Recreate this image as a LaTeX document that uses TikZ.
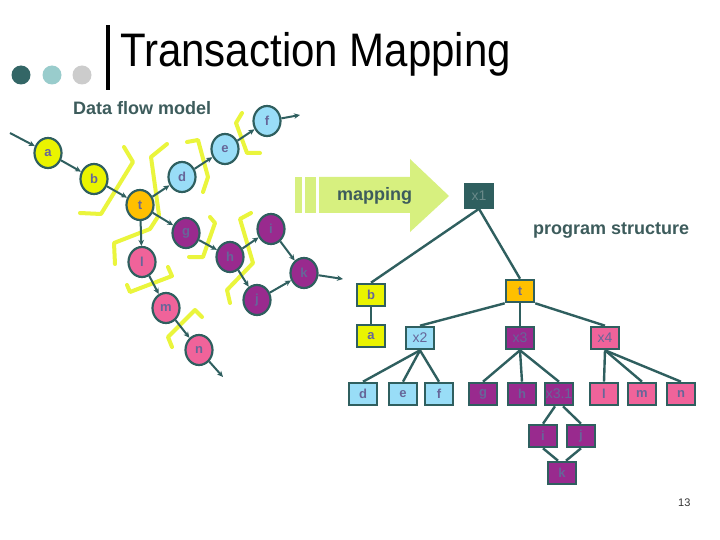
\documentclass[tikz,border=0pt]{standalone}
\usepackage{fontspec}
\setmainfont{Liberation Sans}
\usetikzlibrary{shapes.geometric,arrows.meta}
\definecolor{edgec}{HTML}{2F5F5F}
\definecolor{txtc}{HTML}{3D5C5C}
\definecolor{lblc}{HTML}{666699}
\definecolor{cyel}{HTML}{EAF400}
\definecolor{corg}{HTML}{FFC000}
\definecolor{cblu}{HTML}{99DDF7}
\definecolor{cpur}{HTML}{992A8E}
\definecolor{cpnk}{HTML}{F0639A}
\definecolor{brk}{HTML}{EAF53C}
\definecolor{arrg}{HTML}{D7F07F}
\definecolor{dotA}{HTML}{336666}
\definecolor{dotB}{HTML}{99CCCC}
\definecolor{dotC}{HTML}{CCCCCC}
\definecolor{xonec}{HTML}{6A8A8A}
\begin{document}
\begin{tikzpicture}[x=1pt,y=-1pt,
 dfn/.style={ellipse,draw=edgec,line width=2.2pt,minimum width=27pt,minimum height=30pt,inner sep=0pt,font=\fontsize{13}{13}\selectfont\bfseries,text=lblc},
 box/.style={rectangle,draw=edgec,line width=2.6pt,minimum width=28pt,minimum height=22pt,inner sep=0pt,font=\fontsize{13}{13}\selectfont\bfseries,text=lblc},
 xbox/.style={box,font=\fontsize{14}{14}\selectfont},
 flow/.style={draw=edgec,line width=2pt,-{Stealth[length=6pt,width=5.5pt]}},
 tree/.style={draw=edgec,line width=2.4pt},
 brkt/.style={draw=brk,line width=4pt,line join=round,line cap=round},
 heading/.style={font=\fontsize{18}{18}\selectfont\bfseries,text=txtc,inner sep=0pt}]
\useasboundingbox (0,0) rectangle (720,540);
\fill[white] (0,0) rectangle (720,540);
% title
\fill[dotA] (21,75) circle[radius=9.5pt];
\fill[dotB] (52,75) circle[radius=9.5pt];
\fill[dotC] (82,75) circle[radius=9.5pt];
\fill[black] (106,25) rectangle (110,90);
\node[anchor=base west,inner sep=0pt] (title) at (120,67) {\scalebox{1}[1.12]{\fontsize{42}{42}\selectfont Transaction Mapping}};
\node[heading,anchor=base west] (dfm) at (73,115) {Data flow model};
\node[heading,anchor=base west] (ps) at (533,235) {program structure};
% mapping arrow
\fill[arrg] (295,177) rectangle (302,213);
\fill[arrg] (305,177) rectangle (316,213);
\fill[arrg] (319,177) -- (410,177) -- (410,159) -- (449,196) -- (410,232) -- (410,213) -- (319,213) -- cycle;
\node[heading,anchor=base west] (map) at (337,201) {mapping};
% brackets
\draw[brkt] (124,147) -- (133,162) -- (101,214) -- (80,213);
\draw[brkt] (167,144) -- (151,157) -- (159,215) -- (150,229) -- (114,243) -- (115,264);
\draw[brkt] (187,142) -- (198,140) -- (208,177) -- (203,192);
\draw[brkt] (242,113) -- (236,123) -- (247,153) -- (260,153);
\draw[brkt] (210,217) -- (215,223) -- (203,257) -- (189,257);
\draw[brkt] (251,213) -- (240,219) -- (253,263) -- (227,290) -- (230,303);
\draw[brkt] (127,285) -- (130,292) -- (172,276) -- (168,267);
\draw[brkt] (172,347) -- (168,337) -- (195,310) -- (202,317);
% data flow nodes
\node[dfn,fill=cyel] (a) at (48,153) {a};
\node[dfn,fill=cyel] (b) at (94,179) {b};
\node[dfn,fill=corg] (t) at (140,205) {t};
\node[dfn,fill=cblu] (d) at (182,177) {d};
\node[dfn,fill=cblu] (e) at (225,149) {e};
\node[dfn,fill=cblu] (f) at (267,121) {f};
\node[dfn,fill=cpur] (g) at (186,233) {g};
\node[dfn,fill=cpur] (h) at (230,257) {h};
\node[dfn,fill=cpur] (i) at (271,229) {i};
\node[dfn,fill=cpur] (j) at (257,300) {j};
\node[dfn,fill=cpur] (k) at (304,273) {k};
\node[dfn,fill=cpnk] (l) at (142,262) {l};
\node[dfn,fill=cpnk] (m) at (166,308) {m};
\node[dfn,fill=cpnk] (n) at (199,350) {n};
\coordinate (ain) at (10,133);
\coordinate (fout) at (300,115);
\coordinate (kout) at (343,279);
\coordinate (nout) at (223,377);
\draw[flow] (ain) -- (a);
\draw[flow] (a) -- (b);
\draw[flow] (b) -- (t);
\draw[flow] (t) -- (d);
\draw[flow] (d) -- (e);
\draw[flow] (e) -- (f);
\draw[flow] (f) -- (fout);
\draw[flow] (t) -- (g);
\draw[flow] (t) -- (l);
\draw[flow] (g) -- (h);
\draw[flow] (h) -- (i);
\draw[flow] (h) -- (j);
\draw[flow] (i) -- (k);
\draw[flow] (j) -- (k);
\draw[flow] (k) -- (kout);
\draw[flow] (l) -- (m);
\draw[flow] (m) -- (n);
\draw[flow] (n) -- (nout);
% program structure
\node[xbox,fill=edgec,text=xonec,minimum width=28pt,minimum height=23pt] (x1) at (479,196) {x1};
\node[box,fill=cyel] (b2) at (371,295) {b};
\node[box,fill=cyel] (a2) at (371,336) {a};
\node[box,fill=corg] (t2) at (520,291) {t};
\node[xbox,fill=cblu] (x2) at (420,338) {x2};
\node[xbox,fill=cpur] (x3) at (520,338) {x3};
\node[xbox,fill=cpnk] (x4) at (605,338) {x4};
\node[box,fill=cblu] (d2) at (363,394) {d};
\node[box,fill=cblu] (e2) at (403,394) {e};
\node[box,fill=cblu] (f2) at (439,394) {f};
\node[box,fill=cpur] (g2) at (483,394) {g};
\node[box,fill=cpur] (h2) at (522,394) {h};
\node[xbox,fill=cpur] (x31) at (559,394) {x3.1};
\node[box,fill=cpnk] (l2) at (604,394) {l};
\node[box,fill=cpnk] (m2) at (642,394) {m};
\node[box,fill=cpnk] (n2) at (681,394) {n};
\node[box,fill=cpur] (i2) at (543,436) {i};
\node[box,fill=cpur] (j2) at (581,436) {j};
\node[box,fill=cpur] (k2) at (562,473) {k};
\draw[tree] (x1.south) -- (b2.north);
\draw[tree] (x1.south) -- (t2.north);
\draw[tree] (b2.south) -- (a2.north);
\draw[tree] (t2.south west) -- (x2.north);
\draw[tree] (t2.south) -- (x3.north);
\draw[tree] (t2.south east) -- (x4.north);
\draw[tree] (x2.south) -- (d2.north);
\draw[tree] (x2.south) -- (e2.north);
\draw[tree] (x2.south) -- (f2.north);
\draw[tree] (x3.south) -- (g2.north);
\draw[tree] (x3.south) -- (h2.north);
\draw[tree] (x3.south) -- (x31.north);
\draw[tree] (x4.south) -- (l2.north);
\draw[tree] (x4.south) -- (m2.north);
\draw[tree] (x4.south) -- (n2.north);
\draw[tree] ([xshift=-4pt]x31.south) -- (i2.north);
\draw[tree] ([xshift=4pt]x31.south) -- (j2.north);
\draw[tree] (i2.south) -- ([xshift=-4pt]k2.north);
\draw[tree] (j2.south) -- ([xshift=4pt]k2.north);
\node[anchor=base west,inner sep=0pt,font=\fontsize{11}{11}\selectfont,text=black!80] (pg) at (678,506) {13};
\end{tikzpicture}
\end{document}
